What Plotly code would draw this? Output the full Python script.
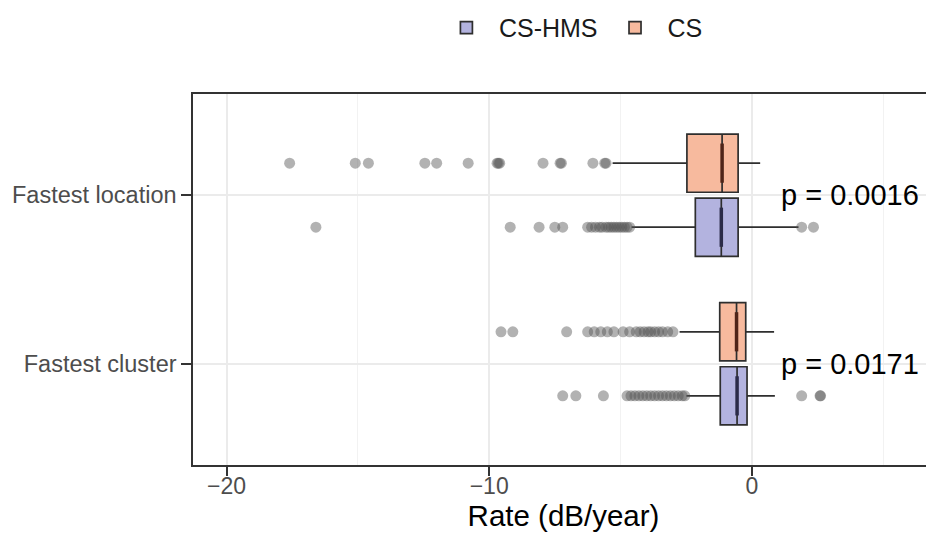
import plotly.graph_objects as go

categories = ["Fastest cluster", "Fastest location"]
groups = ["CS-HMS", "CS"]

# box statistics per category (cluster, location)
hms_q1 = [-1.20, -2.15]
hms_median = [-0.56, -1.16]
hms_q3 = [-0.18, -0.52]
hms_lower = [-2.49, -4.58]
hms_upper = [0.88, 1.78]

cs_q1 = [-1.22, -2.47]
cs_median = [-0.58, -1.13]
cs_q3 = [-0.23, -0.52]
cs_lower = [-2.75, -5.30]
cs_upper = [0.85, 0.32]

# outliers
hms_out_cluster = [-7.2, -6.7, -5.65, -4.75, -4.6, -4.45, -4.3, -4.15, -4.0, -3.85, -3.7,
                   -3.55, -3.4, -3.25, -3.1, -2.95, -2.8, -2.65, -2.55, 1.9, 2.6, 2.62]
hms_out_location = [-16.6, -9.2, -8.1, -7.5, -7.2, -6.25, -6.1, -5.95, -5.8, -5.7, -5.55,
                    -5.45, -5.35, -5.25, -5.15, -5.05, -4.95, -4.85, -4.75, -4.65, 1.9, 2.35]
cs_out_cluster = [-9.55, -9.1, -7.05, -6.25, -6.0, -5.75, -5.5, -5.25, -4.9, -4.65, -4.4,
                  -4.25, -4.1, -3.95, -3.85, -3.7, -3.55, -3.4, -3.2, -3.0]
cs_out_location = [-17.6, -15.1, -14.6, -12.45, -12.0, -10.8, -9.7, -9.65, -9.6, -7.95,
                   -7.3, -7.25, -6.05, -5.6, -5.55]

p_values = ["p = 0.0171", "p = 0.0016"]
p_x = [3.74, 3.74]

x_ticks = [-20, -10, 0]

fill = {"CS-HMS": "#B3B3DF", "CS": "#F7BA9E"}
median_col = {"CS-HMS": "#2b2b48", "CS": "#4f2418"}
offset = {"CS-HMS": -0.19, "CS": 0.19}
box_w = 0.345

stats = {
    "CS-HMS": (hms_q1, hms_median, hms_q3, hms_lower, hms_upper, [hms_out_cluster, hms_out_location]),
    "CS": (cs_q1, cs_median, cs_q3, cs_lower, cs_upper, [cs_out_cluster, cs_out_location]),
}

fig = go.Figure()
for g in groups:
    q1, med, q3, lo, hi, outs = stats[g]
    pos = [i + offset[g] for i in range(len(categories))]
    fig.add_trace(go.Box(
        name=g, orientation="h", y=pos, q1=q1, median=med, q3=q3,
        lowerfence=lo, upperfence=hi, width=box_w, boxpoints=False,
        fillcolor=fill[g], line=dict(color="#2e2e2e", width=1.7),
        whiskerwidth=0, legendgroup=g, hoverinfo="skip",
    ))
    # thicker median line
    fig.add_trace(go.Scatter(
        x=med, y=pos, mode="markers", showlegend=False, hoverinfo="skip",
        marker=dict(symbol="line-ns", size=28, line=dict(color=median_col[g], width=3.5)),
    ))
    for i, o in enumerate(outs):
        fig.add_trace(go.Scatter(
            x=o, y=[pos[i]] * len(o), mode="markers", showlegend=False, hoverinfo="skip",
            marker=dict(size=11, color="rgba(85,85,85,0.45)", line=dict(width=0)),
        ))

for i, t in enumerate(p_values):
    fig.add_annotation(x=p_x[i], y=i, text=t, showarrow=False,
                       font=dict(size=29, color="#000000"), xanchor="center", yanchor="middle")

# the page body adds an 8px margin, so the figure is sized to fit inside it
fig.update_layout(
    width=926, height=532,
    margin=dict(l=185, r=0, t=86, b=75, autoexpand=False),
    paper_bgcolor="white", plot_bgcolor="white",
    font=dict(family="Liberation Sans, Arial, sans-serif"),
    boxmode="overlay",
    showlegend=True,
    legend=dict(orientation="h", x=0.51, xanchor="center", y=1.178, yanchor="middle",
                font=dict(size=25, color="#1a1a1a"), traceorder="normal",
                itemwidth=55),
)
fig.update_xaxes(
    range=[-21.28, 6.94], tickvals=x_ticks, ticks="outside", ticklen=9,
    tickcolor="#333333", tickwidth=1.5,
    tickfont=dict(size=23, color="#4d4d4d"),
    ticklabelstandoff=-9,
    showgrid=True, gridcolor="#EBEBEB", gridwidth=1.5,
    minor=dict(dtick=5, tick0=0, showgrid=True, gridcolor="#F2F2F2", gridwidth=1),
    showline=True, linecolor="#333333", linewidth=1.5, mirror=True,
    zeroline=False,
    title=dict(text="Rate (dB/year)", font=dict(size=29.5, color="#000000"), standoff=0),
)
fig.update_yaxes(
    range=[-0.6, 1.6], tickvals=list(range(len(categories))), ticktext=categories,
    ticks="outside", ticklen=10, tickcolor="#333333", tickwidth=1.5,
    tickfont=dict(size=23.5, color="#4d4d4d"),
    showgrid=True, gridcolor="#EBEBEB", gridwidth=1.5,
    showline=True, linecolor="#333333", linewidth=1.5, mirror=False,
    zeroline=False,
)

fig.write_html("out.html")
